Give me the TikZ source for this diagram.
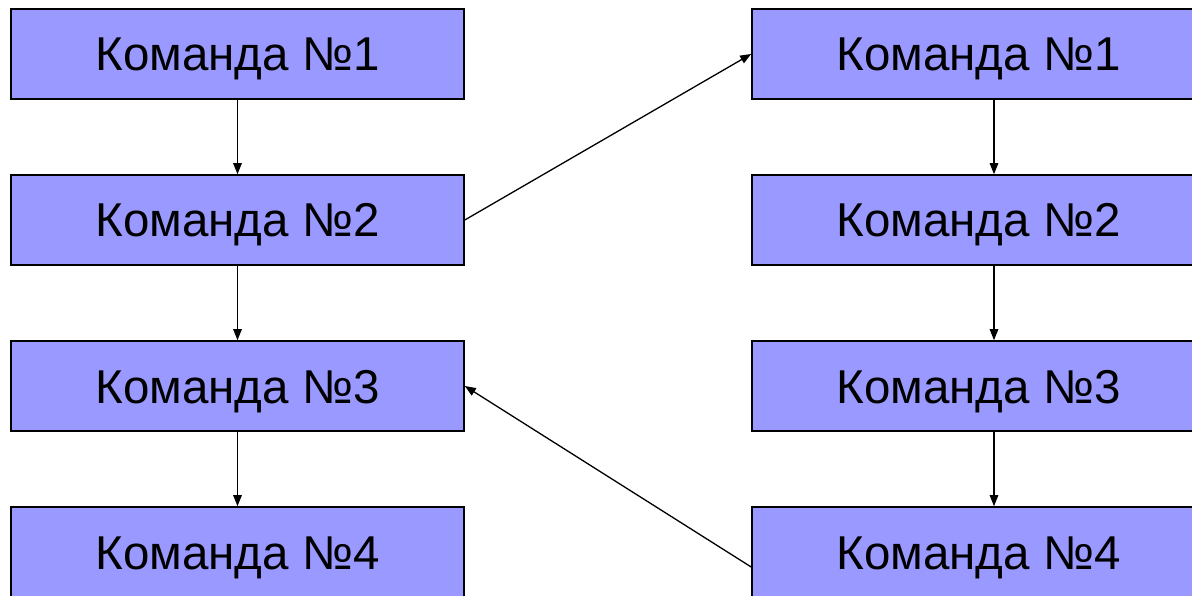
\documentclass[tikz,border=0pt]{standalone}
\usepackage{fontspec}
\setmainfont{Liberation Sans}
\usetikzlibrary{arrows.meta}
\definecolor{boxfill}{HTML}{9999FF}
\tikzset{
  cmdbox/.style={draw=black, line width=1.6pt, fill=boxfill,
    minimum width=453pt, minimum height=90pt, inner sep=0pt,
    text height=34pt, text depth=0pt,
    font=\fontsize{47.5pt}{55pt}\selectfont},
  link/.style={draw=black, line width=1.3pt,
    -{Triangle[length=11pt,width=8.5pt]}}
}
\begin{document}
\begin{tikzpicture}[x=1pt,y=-1pt]
  \useasboundingbox (0,0) rectangle (1192,596);
  \clip (0,0) rectangle (1192,596);
  % left column
  \node[cmdbox] (l1) at (237.5,54)  {Команда №1};
  \node[cmdbox] (l2) at (237.5,220) {Команда №2};
  \node[cmdbox] (l3) at (237.5,386) {Команда №3};
  \node[cmdbox] (l4) at (237.5,552) {Команда №4};
  % right column
  \node[cmdbox] (r1) at (978.5,54)  {Команда №1};
  \node[cmdbox] (r2) at (978.5,220) {Команда №2};
  \node[cmdbox] (r3) at (978.5,386) {Команда №3};
  \node[cmdbox] (r4) at (978.5,552) {Команда №4};
  % sequential flow, left column
  \draw[link] (l1) -- (l2);
  \draw[link] (l2) -- (l3);
  \draw[link] (l3) -- (l4);
  % sequential flow, right column (arrows run a little right of centre)
  \draw[link] ([xshift=15.5pt]r1.south) -- ([xshift=15.5pt]r2.north);
  \draw[link] ([xshift=15.5pt]r2.south) -- ([xshift=15.5pt]r3.north);
  \draw[link] ([xshift=15.5pt]r3.south) -- ([xshift=15.5pt]r4.north);
  % jumps between columns
  \draw[link] (l2.east) -- (r1.west);
  \coordinate (r4out) at ([yshift=-15pt]r4.west);
  \draw[link] (r4out) -- (l3.east);
\end{tikzpicture}
\end{document}
